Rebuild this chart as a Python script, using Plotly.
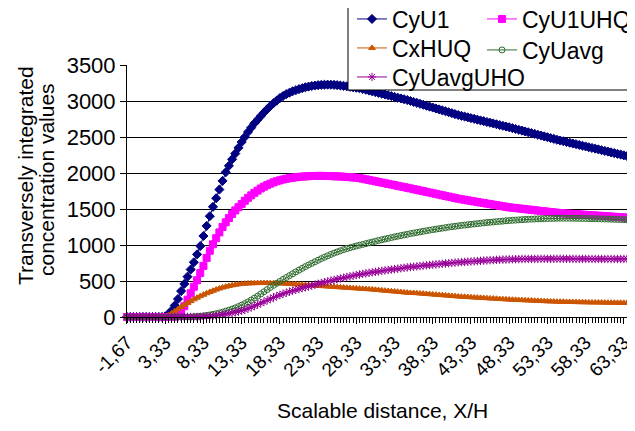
import plotly.graph_objects as go

# ---- data ----
cyu1 = [0]*12 + [
    10, 40, 90, 160, 250, 360, 460, 560, 660, 760, 870, 985, 1125, 1265, 1400, 1530, 1650, 1770, 1890, 2010,
    2100, 2190, 2270, 2350, 2430, 2500, 2570, 2630, 2690, 2740, 2790, 2840, 2885, 2930, 2970, 3005, 3040, 3070,
    3095, 3115, 3135, 3150, 3165, 3178, 3190, 3200, 3208, 3215, 3220, 3224, 3226, 3227, 3226, 3224, 3220, 3215,
    3210, 3204, 3197, 3190, 3184, 3178, 3167, 3156, 3145, 3134, 3123, 3112, 3101, 3090, 3079, 3068, 3057, 3046,
    3035, 3024, 3013, 3000, 2987, 2974, 2961, 2948, 2935, 2922, 2909, 2896, 2883, 2870, 2857, 2844, 2831, 2818,
    2805, 2794, 2784, 2773, 2762, 2752, 2741, 2730, 2720, 2709, 2698, 2688, 2677, 2666, 2656, 2645, 2635, 2623,
    2612, 2600, 2589, 2577, 2566, 2554, 2543, 2531, 2520, 2508, 2497, 2485, 2474, 2462, 2451, 2441, 2430, 2420,
    2410, 2400, 2389, 2379, 2369, 2358, 2348, 2338, 2328, 2317, 2307, 2297, 2286, 2276, 2266, 2256, 2245, 2235,
    2225, 2215]

cyu1uhq = [0]*15 + [
    5, 20, 70, 150, 240, 330, 420, 510, 610, 710, 820, 920, 1010, 1095, 1175, 1250, 1315, 1375, 1430, 1480,
    1525, 1570, 1615, 1655, 1690, 1725, 1755, 1785, 1810, 1832, 1852, 1870, 1885, 1898, 1910, 1920, 1928, 1935,
    1941, 1946, 1950, 1953, 1956, 1958, 1959, 1960, 1960, 1959, 1958, 1957, 1955, 1953, 1951, 1948, 1945,
    1942, 1938, 1934, 1929, 1921, 1912, 1903, 1894, 1885, 1876, 1867, 1858, 1849, 1840, 1831, 1822, 1813, 1804,
    1795, 1786, 1776, 1767, 1757, 1748, 1738, 1729, 1719, 1710, 1700, 1691, 1681, 1672, 1662, 1653, 1643, 1635,
    1628, 1620, 1613, 1605, 1598, 1590, 1583, 1575, 1568, 1560, 1553, 1545, 1538, 1530, 1523, 1518, 1513, 1508,
    1503, 1498, 1493, 1488, 1483, 1478, 1473, 1468, 1463, 1458, 1453, 1448, 1443, 1440, 1437, 1434, 1431, 1428,
    1425, 1422, 1419, 1416, 1413, 1410, 1407, 1404, 1401, 1398, 1395, 1392, 1389, 1386, 1383, 1380, 1377, 1374]

cxhuq = [0]*12 + [
    5, 25, 50, 80, 110, 140, 170, 195, 220, 245, 268, 290, 310, 330, 348, 365, 381, 396, 409, 421,
    431, 440, 448, 454, 459, 463, 466, 468, 470, 471, 472, 472, 472, 471, 470, 469, 467, 465, 463, 460,
    457, 454, 451, 448, 445, 442, 439, 436, 433, 430, 427, 424, 421, 418, 415, 412, 409, 406, 403, 400,
    397, 394, 391, 388, 385, 382, 378, 374, 370, 366, 362, 358, 354, 350, 346, 342, 338, 335, 333, 331,
    327, 324, 320, 317, 313, 310, 306, 303, 299, 296, 292, 289, 285, 282, 280, 277, 274, 272, 269, 266,
    264, 261, 258, 256, 253, 250, 248, 245, 242, 240, 238, 236, 234, 232, 230, 228, 226, 224, 222, 220,
    218, 216, 215, 213, 212, 211, 210, 209, 208, 207, 206, 205, 204, 203, 202, 202, 201, 200, 200, 199,
    198, 198, 197, 197, 196, 196, 195, 195]

cyuavg = [0]*21 + [
    4, 7, 11, 16, 22, 29, 37, 46, 56, 68, 81, 95, 110, 127, 145, 165, 187, 210, 235, 262,
    290, 320, 350, 380, 410, 440, 468, 495, 522, 548, 574, 600, 626, 651, 676, 700, 723, 745, 767, 789,
    810, 830, 850, 869, 887, 904, 920, 935, 950, 962, 974, 986, 997, 1008, 1019, 1030, 1041, 1052, 1063, 1073,
    1083, 1093, 1103, 1113, 1122, 1131, 1140, 1149, 1158, 1166, 1174, 1182, 1190, 1198, 1206, 1213, 1220, 1227,
    1234, 1241, 1248, 1254, 1260, 1266, 1272, 1277, 1282, 1287, 1292, 1297, 1302, 1307, 1312, 1316, 1320, 1324,
    1328, 1332, 1336, 1340, 1343, 1346, 1349, 1352, 1355, 1357, 1359, 1361, 1363, 1365, 1367, 1368, 1369, 1370,
    1371, 1372, 1372, 1372, 1372, 1371, 1371, 1370, 1369, 1368, 1367, 1366, 1365, 1364, 1362, 1361, 1360, 1358,
    1357, 1355, 1354, 1352, 1351, 1349, 1348]

cyuavguho = [0]*24 + [
    3, 6, 10, 15, 20, 26, 33, 40, 48, 56, 65, 75, 88, 102, 118, 135, 153, 172, 192, 212,
    232, 252, 271, 289, 306, 322, 337, 351, 364, 377, 389, 401, 413, 425, 437, 449, 461, 472, 483, 494,
    505, 515, 525, 535, 545, 555, 564, 573, 582, 590, 598, 606, 613, 620, 627, 634, 641, 647, 653, 659,
    665, 671, 677, 683, 689, 694, 698, 703, 708, 713, 718, 722, 727, 731, 735, 739, 743, 747, 751, 755,
    759, 762, 765, 768, 771, 774, 777, 780, 783, 786, 789, 791, 793, 795, 797, 799, 801, 802, 803, 804,
    805, 806, 806, 807, 807, 807, 808, 808, 808, 808, 808, 808, 808, 808, 808, 808, 807, 807, 807, 807,
    807, 807, 806, 806, 806, 806, 806, 806, 806, 806, 806, 806, 806, 806, 806, 806]

tick_labels = ["-1,67", "3,33", "8,33", "13,33", "18,33", "23,33", "28,33", "33,33",
               "38,33", "43,33", "48,33", "53,33", "58,33", "63,33"]
tick_values = [float(t.replace(",", ".")) for t in tick_labels]

# X/H category grid (step 5/12)
x_vals = [round(-5/3 + i*5/12, 4) for i in range(len(cyu1))]

FONT = "Liberation Sans, Arial, sans-serif"

# The page body has an 8px margin; the figure is sized so it fits the window.
OFF = 8
W, H = 635 - OFF, 431 - OFF
L, R, T, B = 127 - OFF, 0, 65 - OFF, 114
pw, ph = W - L - R, H - T - B

def px(xp):  # page pixel x -> paper x
    return (xp - OFF - L) / pw

def py(yp):  # page pixel y -> paper y
    return (OFF + H - B - yp) / ph

# name, values, colour, symbol, size, legend id, legend pixel position (x, y-centre)
series = [
    ("CyU1", cyu1, "#000080", "diamond", 7, "legend", (352, 19)),
    ("CyU1UHQ", cyu1uhq, "#FF00FF", "square", 7, "legend2", (482, 19)),
    ("CxHUQ", cxhuq, "#CC5500", "triangle-up", 6, "legend3", (352, 48)),
    ("CyUavg", cyuavg, "#2E6B2E", "circle-open", 6, "legend4", (482, 50)),
    ("CyUavgUHO", cyuavguho, "#990099", "asterisk-open", 7, "legend5", (352, 77)),
]

fig = go.Figure()
legends = {}
for name, ys, col, sym, sz, lg, (lx, ly) in series:
    fig.add_trace(go.Scatter(
        x=x_vals[:len(ys)], y=ys, name=name, mode="lines+markers",
        line=dict(color=col, width=1),
        marker=dict(symbol=sym, size=sz, color=col, line=dict(color=col, width=1)),
        legend=lg, cliponaxis=False,
    ))
    legends[lg] = dict(x=px(lx), y=py(ly), xanchor="left", yanchor="middle",
                       bgcolor="rgba(0,0,0,0)", borderwidth=0,
                       font=dict(size=23, family=FONT), itemwidth=30)

fig.update_layout(
    width=W, height=H,
    margin=dict(l=L, r=R, t=T, b=B, pad=0, autoexpand=False),
    paper_bgcolor="white", plot_bgcolor="white",
    font=dict(family=FONT, size=21, color="black"),
    showlegend=True,
    xaxis=dict(
        range=[x_vals[0], x_vals[0] + 159.5*5/12],
        tickmode="array", tickvals=tick_values, ticktext=tick_labels,
        tickangle=-45, tickfont=dict(size=19),
        ticks="outside", ticklen=6, tickcolor="black",
        minor=dict(dtick=5/12, tick0=-5/3, ticks="outside", ticklen=5, tickcolor="black", showgrid=False),
        showgrid=False, zeroline=False, showline=True, linecolor="black", linewidth=1,
    ),
    yaxis=dict(
        range=[0, 3500], dtick=500, tick0=0,
        tickfont=dict(size=22),
        ticks="outside", ticklen=6, tickcolor="black",
        showgrid=True, gridcolor="black", gridwidth=1,
        zeroline=False, showline=True, linecolor="black", linewidth=1,
    ),
    shapes=[dict(type="rect", xref="paper", yref="paper",
                 x0=px(348), x1=px(650), y0=py(90), y1=py(5),
                 fillcolor="white", line=dict(color="black", width=1), layer="above")],
    annotations=[
        dict(text="Transversely integrated", xref="paper", yref="paper",
             x=px(25), y=py(176), xanchor="center", yanchor="middle",
             textangle=-90, showarrow=False, font=dict(size=21)),
        dict(text="concentration values", xref="paper", yref="paper",
             x=px(46), y=py(180), xanchor="center", yanchor="middle",
             textangle=-90, showarrow=False, font=dict(size=21)),
        dict(text="Scalable distance, X/H", xref="paper", yref="paper",
             x=px(382), y=py(410), xanchor="center", yanchor="middle",
             showarrow=False, font=dict(size=21)),
    ],
)
fig.update_layout(**legends)

fig.write_html("out.html")
